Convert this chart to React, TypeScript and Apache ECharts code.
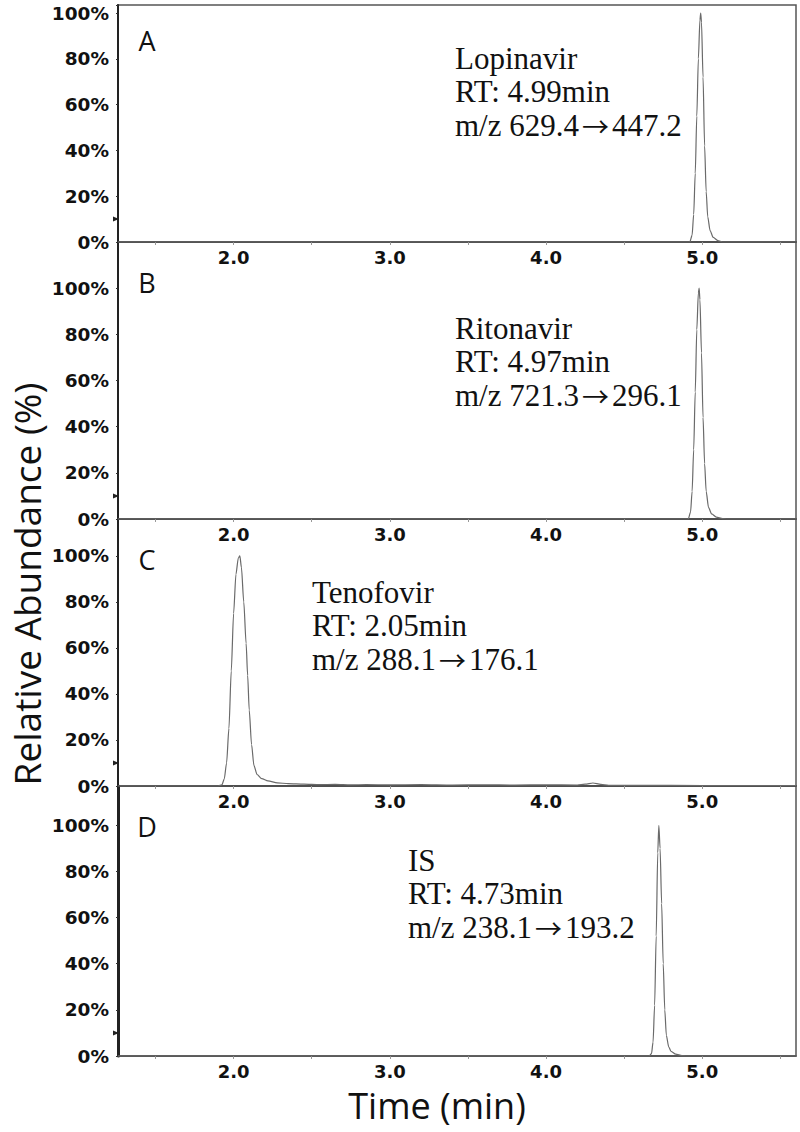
import React, { useEffect, useRef } from "react";
import * as echarts from "echarts";

// ---- data (time in min, relative abundance in %) ----
const xMin = 1.26;
const xMax = 5.6;
const xTickLabels = [2.0, 3.0, 4.0, 5.0];
const xMinorTicks = [1.5, 2.0, 2.5, 3.0, 3.5, 4.0, 4.5, 5.0, 5.5];
const yTickValues = [0, 20, 40, 60, 80, 100];
const panelLetters = ["A", "B", "C", "D"];
const compoundNames = ["Lopinavir", "Ritonavir", "Tenofovir", "IS"];
const retentionTimes = ["RT: 4.99min", "RT: 4.97min", "RT: 2.05min", "RT: 4.73min"];
const precursorIons = ["629.4", "721.3", "288.1", "238.1"];
const productIons = ["447.2", "296.1", "176.1", "193.2"];

const lopinavir: number[][] = [
  [1.26, 0], [4.92, 0], [4.935, 3], [4.945, 12], [4.955, 30], [4.965, 55], [4.975, 80], [4.985, 97],
  [4.99, 100], [4.995, 96], [5.005, 72], [5.015, 42], [5.025, 22], [5.035, 11], [5.05, 5], [5.07, 2],
  [5.1, 0.6], [5.13, 0], [5.6, 0],
];
const ritonavir: number[][] = [
  [1.26, 0], [4.91, 0], [4.925, 3], [4.935, 12], [4.945, 30], [4.955, 55], [4.965, 82], [4.975, 98],
  [4.98, 100], [4.985, 95], [4.995, 72], [5.005, 44], [5.015, 24], [5.025, 12], [5.04, 5], [5.06, 2.2],
  [5.09, 0.8], [5.13, 0.2], [5.16, 0], [5.6, 0],
];
const tenofovir: number[][] = [
  [1.26, 0], [1.9, 0], [1.925, 0.5], [1.94, 3], [1.955, 10], [1.97, 25], [1.985, 50], [2.0, 75],
  [2.015, 92], [2.03, 99], [2.04, 100], [2.05, 95], [2.065, 80], [2.08, 62], [2.09, 48], [2.1, 33],
  [2.115, 18], [2.13, 9], [2.15, 5], [2.18, 3.2], [2.22, 2.2], [2.28, 1.4], [2.35, 1.0], [2.45, 0.8],
  [2.55, 0.6], [2.65, 0.7], [2.75, 0.5], [2.85, 0.6], [3.0, 0.5], [3.2, 0.6], [3.4, 0.4], [3.6, 0.5],
  [3.8, 0.4], [4.0, 0.5], [4.2, 0.4], [4.25, 0.8], [4.3, 1.3], [4.35, 0.7], [4.4, 0.3], [4.6, 0.3],
  [5.0, 0.2], [5.6, 0.2],
];
const internalStd: number[][] = [
  [1.26, 0], [4.66, 0], [4.675, 1], [4.685, 6], [4.695, 22], [4.705, 52], [4.715, 88], [4.722, 100],
  [4.73, 90], [4.74, 66], [4.75, 40], [4.76, 20], [4.77, 9], [4.785, 4], [4.8, 2], [4.83, 0.8],
  [4.87, 0.2], [4.9, 0], [5.6, 0],
];
const traces = [lopinavir, ritonavir, tenofovir, internalStd];
const yMaxes = [103.5, 120, 116, 117];

// ---- layout ----
const gridTops = [5, 242, 519, 786];
const gridHeights = [237, 277, 267, 270];
const gridLeft = 118;
const gridRight = 4;
const annotX = [455, 455, 312, 408];
const annotY = [58, 328, 592, 860];
const annotLineGap = 33.5;

export default function App() {
  const ref = useRef<HTMLDivElement>(null);
  useEffect(() => {
    if (!ref.current) return;
    const chart = echarts.init(ref.current, null, { renderer: "svg" });
    const grids = gridTops.map((top, i) => ({
      left: gridLeft,
      right: gridRight,
      top,
      height: gridHeights[i],
      show: true,
      borderColor: "#555",
      borderWidth: 1.5,
      backgroundColor: "transparent",
    }));
    const xAxes = traces.map((_, i) => ({
      type: "value",
      gridIndex: i,
      min: xMin,
      max: xMax,
      axisLine: { show: true, onZero: false, lineStyle: { color: "#4a4a4a", width: 1.5 } },
      axisTick: { show: true, customValues: xMinorTicks, length: 3, lineStyle: { color: "#999", width: 1 } },
      axisLabel: {
        show: true,
        customValues: xTickLabels,
        formatter: (v: number) => v.toFixed(1),
        margin: 6,
        color: "#111",
        fontFamily: "DejaVu Sans",
        fontWeight: "bold",
        fontSize: 18,
      },
      splitLine: { show: false },
    }));
    const yAxes = traces.map((_, i) => ({
      type: "value",
      gridIndex: i,
      min: 0,
      max: yMaxes[i],
      interval: 20,
      axisLine: { show: true, lineStyle: { color: "#222", width: i === 3 ? 3 : 2 } },
      axisTick: { show: true, length: 2, lineStyle: { color: "#333" } },
      axisLabel: {
        show: true,
        margin: 9,
        formatter: (v: number) => (yTickValues.indexOf(Math.round(v * 1000) / 1000) >= 0 ? v + "%" : ""),
        color: "#111",
        fontFamily: "DejaVu Sans",
        fontWeight: "bold",
        fontSize: 18.5,
      },
      splitLine: { show: false },
    }));
    const series = traces.map((d, i) => ({
      type: "line",
      xAxisIndex: i,
      yAxisIndex: i,
      data: d,
      showSymbol: false,
      smooth: 0.25,
      smoothMonotone: "x",
      lineStyle: { color: "#6a6a6a", width: 1.2 },
      markPoint: {
        silent: true,
        symbol: "triangle",
        symbolSize: [5, 6],
        symbolRotate: -90,
        symbolOffset: [-2, 0],
        itemStyle: { color: "#222" },
        label: { show: false },
        data: [{ coord: [xMin, 10] }],
      },
    }));
    const serifFont = '31px "Liberation Serif"';
    const graphic: any[] = [];
    panelLetters.forEach((L, i) => {
      graphic.push({
        type: "text",
        x: 147,
        y: gridTops[i] + (i === 0 ? 35 : 40),
        style: {
          text: L,
          font: '27px "Open Sans"',
          fill: "#111",
          textAlign: "center",
          textVerticalAlign: "middle",
        },
      });
      [compoundNames[i], retentionTimes[i]].forEach((line, k) => {
        graphic.push({
          type: "text",
          x: annotX[i],
          y: annotY[i] + k * annotLineGap,
          style: {
            text: line,
            font: serifFont,
            fill: "#111",
            textAlign: "left",
            textVerticalAlign: "middle",
          },
        });
      });
      graphic.push({
        type: "text",
        x: annotX[i],
        y: annotY[i] + 2 * annotLineGap,
        style: {
          text: "{t|m/z " + precursorIons[i] + "}{arr|\u2192}{t|" + productIons[i] + "}",
          fill: "#111",
          textAlign: "left",
          textVerticalAlign: "middle",
          rich: {
            t: { font: serifFont, fill: "#111", height: 32 },
            arr: { font: '27px "Noto Sans CJK SC"', fill: "#111", height: 32, padding: [0, 3, 0, 3] },
          },
        },
      });
    });
    graphic.push({
      type: "text",
      x: 26,
      y: 584,
      rotation: Math.PI / 2,
      style: {
        text: "Relative Abundance (%)",
        font: '37px "Open Sans"',
        fill: "#111",
        textAlign: "center",
        textVerticalAlign: "middle",
      },
    });
    graphic.push({
      type: "text",
      x: 437,
      y: 1105,
      style: {
        text: "Time (min)",
        font: '36px "Open Sans"',
        fill: "#111",
        textAlign: "center",
        textVerticalAlign: "middle",
      },
    });
    chart.setOption({
      animation: false,
      backgroundColor: "#fff",
      grid: grids,
      xAxis: xAxes,
      yAxis: yAxes,
      series,
      graphic,
    });
    return () => chart.dispose();
  }, []);
  return (
    <div
      ref={ref}
      style={{ position: "fixed", left: 0, top: 0, width: 800, height: 1132 }}
    />
  );
}
